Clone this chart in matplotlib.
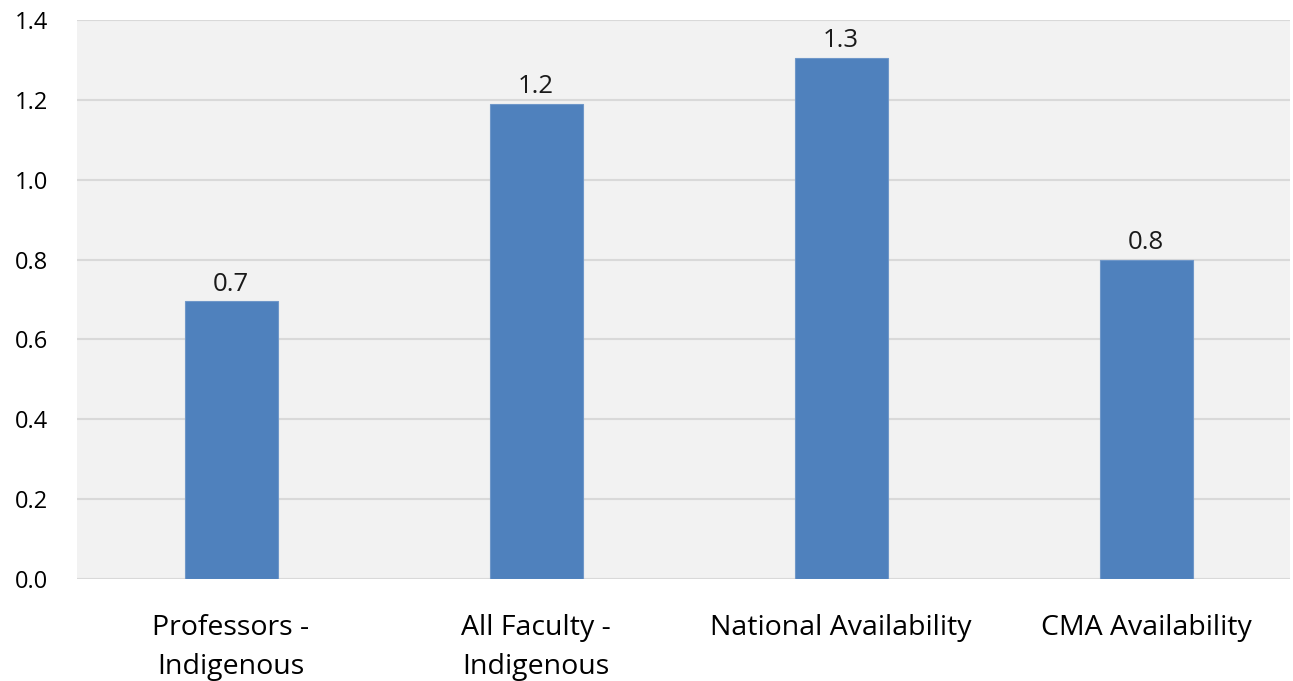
import matplotlib.pyplot as plt
import numpy as np

plt.rcParams['font.family'] = ['Open Sans', 'DejaVu Sans']

# data
categories = ['Professors -\nIndigenous', 'All Faculty -\nIndigenous',
              'National Availability', 'CMA Availability']
values = [0.695, 1.19, 1.305, 0.8]
labels = ['0.7', '1.2', '1.3', '0.8']
yticks = [0.0, 0.2, 0.4, 0.6, 0.8, 1.0, 1.2, 1.4]

fig = plt.figure(figsize=(12.93, 6.81), dpi=100)
ax = fig.add_axes([77 / 1293, 102 / 681, 1213 / 1293, 559 / 681])
ax.set_facecolor('#f2f2f2')

x = np.arange(len(categories))
bars = ax.bar(x, values, width=0.305, color='#4f81bd', edgecolor='#6f97c9',
              linewidth=0.8, zorder=3)

for b, lab in zip(bars, labels):
    ax.annotate(lab, (b.get_x() + b.get_width() / 2, b.get_height()),
                xytext=(0, 3.5), textcoords='offset points',
                ha='center', va='bottom', fontsize=18.5, color='#1a1a1a')

ax.set_xlim(-0.505, 3.472)
ax.set_ylim(0, 1.4)
ax.set_yticks(yticks)
ax.set_yticklabels(['%.1f' % t for t in yticks])
ax.set_xticks(x)
ax.set_xticklabels(categories, fontsize=20.5, linespacing=1.55)
ax.tick_params(axis='y', length=0, labelsize=17, pad=21)
ax.tick_params(axis='x', length=0, pad=25)
ax.grid(axis='y', color='#d9d9d9', linewidth=1.5, zorder=0)
for s in ax.spines.values():
    s.set_visible(False)

fig.savefig('out.png', dpi=100, facecolor='white')
